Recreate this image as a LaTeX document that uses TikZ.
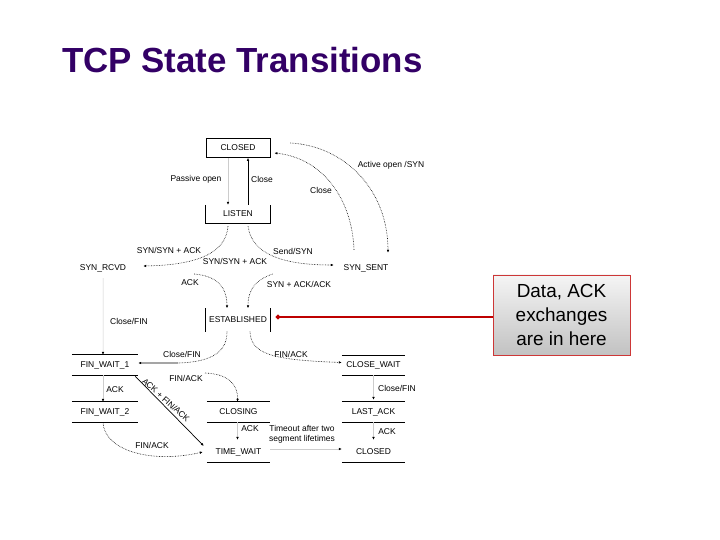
\documentclass[tikz,border=0pt]{standalone}
\usepackage{fontspec}
\setmainfont{Liberation Sans}
\usetikzlibrary{arrows.meta}
\definecolor{titlepurple}{RGB}{51,0,102}
\definecolor{noteedge}{RGB}{205,55,55}
\definecolor{linkred}{RGB}{190,0,0}

\begin{document}
\begin{tikzpicture}[x=1bp, y=-1bp,
  st/.style={minimum width=64bp, minimum height=20bp, inner sep=0pt, font=\fontsize{8.5}{10}\selectfont},
  lbl/.style={inner sep=0pt, align=center, font=\fontsize{8.5}{10}\selectfont},
  tr/.style={densely dotted, line width=0.6bp, -{Latex[length=3bp, width=2.6bp]}},
  trs/.style={line width=0.7bp, -{Latex[length=3bp, width=2.6bp]}},
  faint/.style={black!20, line width=0.5bp, -{Latex[length=3bp, width=2.6bp, color=black]}},
  rule/.style={line width=0.7bp}]
\useasboundingbox (0,0) rectangle (720,540);

\node[anchor=west, inner sep=0pt, text=titlepurple, font=\fontsize{35}{38}\selectfont\bfseries] (title) at (62,60) {TCP State Transitions};

\node[st, draw, rule, minimum height=19bp] (closed) at (238,148) {CLOSED};
\node[st, minimum height=18bp] (listen) at (238,214) {LISTEN};
\node[st] (synrcvd) at (103,268) {SYN\_RCVD};
\node[st] (synsent) at (366,268) {SYN\_SENT};
\node[st, minimum width=65bp, minimum height=23bp] (estab) at (238,320) {ESTABLISHED};
\node[st, minimum width=66bp] (fw1) at (105,365) {FIN\_WAIT\_1};
\node[st, minimum width=66bp] (fw2) at (105,412) {FIN\_WAIT\_2};
\node[st, minimum width=63bp] (closing) at (238.5,412) {CLOSING};
\node[st, minimum width=63bp] (timewait) at (238.5,452) {TIME\_WAIT};
\node[st, minimum width=63bp, minimum height=19bp] (closewait) at (373.5,365.5) {CLOSE\_WAIT};
\node[st, minimum width=63bp] (lastack) at (373.5,412) {LAST\_ACK};
\node[st, minimum width=63bp] (closedb) at (373.5,452) {CLOSED};

\draw[rule] (listen.north west) -- (listen.south west) -- (listen.south east) -- (listen.north east);
\draw[rule] (estab.north west) -- (estab.south west) (estab.north east) -- (estab.south east);
\foreach \n in {fw1,fw2,closing,closewait,lastack}
  \draw[rule] (\n.north west) -- (\n.north east) (\n.south west) -- (\n.south east);
\foreach \n in {timewait,closedb}
  \draw[rule] (\n.south west) -- (\n.south east);

\draw[faint] ([xshift=-10bp]closed.south) -- ([xshift=-10bp]listen.north);
\draw[trs] ([xshift=10bp]listen.north) -- ([xshift=10bp]closed.south);
\draw[tr] ([shift={(20,-5)}]closed.east) .. controls (345,146) and (388,190) .. ([shift={(22,-5)}]synsent.north);
\draw[tr] ([shift={(-12,-8)}]synsent.north) .. controls (352,198) and (322,158) .. ([shift={(4,5)}]closed.east);
\draw[tr] ([shift={(-10,3)}]listen.south) .. controls (226,252) and (200,265) .. ([shift={(8,-2)}]synrcvd.east);
\draw[tr] ([shift={(10,3)}]listen.south) .. controls (252,254) and (282,265) .. ([yshift=3bp]synsent.west);
\draw[tr] ([shift={(59,6)}]synrcvd.east) .. controls (216,276) and (227,286) .. ([xshift=-11bp]estab.north);
\draw[tr] ([shift={(-61,6)}]synsent.west) .. controls (255,280) and (248,290) .. ([xshift=10bp]estab.north);
\draw[faint] (synrcvd.south) -- ([xshift=-2bp]fw1.north);

\coordinate (cfin) at (178,363);
\draw[densely dotted, line width=0.6bp] ([xshift=-11bp]estab.south) .. controls (227,352) and (212,362) .. (cfin);
\draw[trs] (cfin) -- ([yshift=2bp]fw1.east);
\draw[tr] ([xshift=12bp]estab.south) .. controls (251,354) and (272,360) .. ([yshift=3bp]closewait.west);
\coordinate (cfa) at (205,373);
\draw[tr] (cfa) .. controls (230,374) and (238,386) .. ([xshift=-1bp]closing.north);
\draw[faint] ([xshift=-2bp]fw1.south) -- ([xshift=-2bp]fw2.north);
\draw[trs] ([shift={(-3,1)}]fw1.south east) -- ([shift={(-3,-6)}]timewait.west);
\draw[tr] ([xshift=-2bp]fw2.south) .. controls (104,450) and (150,464) .. ([xshift=-4bp]timewait.west);
\draw[faint] ([xshift=-1bp]closing.south) -- ([shift={(-1,-2)}]timewait.north);
\draw[faint] ([yshift=3bp]timewait.east) -- ([yshift=3bp]closedb.west);
\draw[faint] (closewait.south) -- ([yshift=2bp]lastack.north);
\draw[faint] (lastack.south) -- ([yshift=2bp]closedb.north);

\node[lbl] (lpo) at (196,179) {Passive open};
\node[lbl] (lcl) at (262,179) {Close};
\node[lbl] (lcs) at (321,190) {Close};
\node[lbl] (lao) at (391,165) {Active open /SYN};
\node[lbl] (lsa) at (169,250) {SYN/SYN + ACK};
\node[lbl] (lsb) at (235,261) {SYN/SYN + ACK};
\node[lbl] (lss) at (293,251) {Send/SYN};
\node[lbl] (lak) at (190,283) {ACK};
\node[lbl] (lsk) at (299,284) {SYN + ACK/ACK};
\node[lbl] (lcf) at (129,321) {Close/FIN};
\node[lbl] (lcg) at (182,354) {Close/FIN};
\node[lbl] (lfe) at (291,354) {FIN/ACK};
\node[lbl] (lfc) at (186,378) {FIN/ACK};
\node[lbl] (lak2) at (115,390) {ACK};
\node[lbl, rotate=-42] (laf) at (166,400) {ACK + FIN/ACK};
\node[lbl] (lft) at (152,445) {FIN/ACK};
\node[lbl] (lak3) at (250,429) {ACK};
\node[lbl] (lto) at (302,434) {Timeout after two\\segment lifetimes};
\node[lbl] (lcw) at (397,388) {Close/FIN};
\node[lbl] (lak4) at (387,432) {ACK};

\node[draw=noteedge, line width=0.8bp, top color=white!96!black, bottom color=white!76!black,
  minimum width=137bp, minimum height=80bp, align=center,
  font=\fontsize{19}{24}\selectfont] (note) at (561.5,315) {Data, ACK\\exchanges\\are in here};
\draw[linkred, line width=1.6bp, -{Circle[length=4.5bp]}, shorten >=5bp]
  ([yshift=-2bp]note.west) -- ([yshift=-2bp]note.west -| estab.east);
\end{tikzpicture}
\end{document}
